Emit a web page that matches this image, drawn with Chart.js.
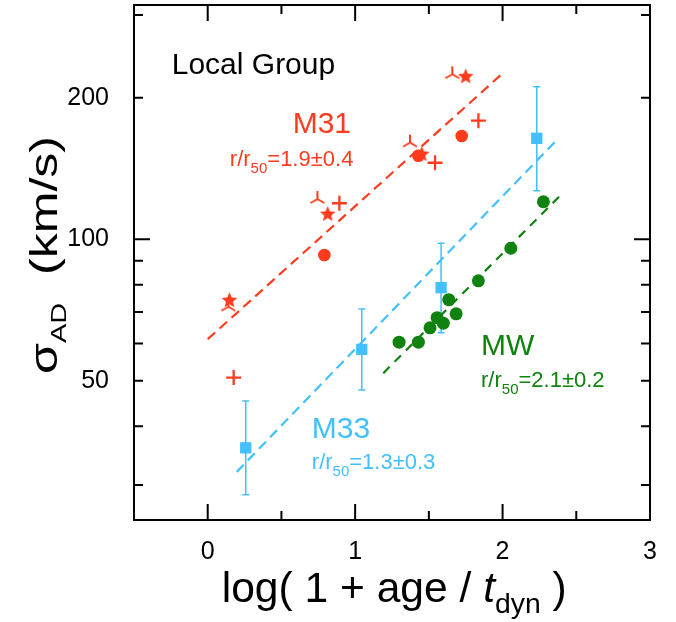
<!DOCTYPE html>
<html>
<head>
<meta charset="utf-8">
<script src="https://cdn.jsdelivr.net/npm/chart.js@4.4.1/dist/chart.umd.min.js"></script>
<style>
  html, body { margin: 0; padding: 0; background: #fff; }
</style>
</head>
<body>
<canvas id="c" width="676" height="622"></canvas>
<script>
// ---- data (x = log(1+age/tdyn), y = sigma_AD in km/s) ----
const xTickLabels = [0, 1, 2, 3];
const xMinorTicks = [0.5, 1.5, 2.5];
const yTickLabels = [50, 100, 200];
const yMinorTicks = [30, 40, 60, 70, 80, 90, 300];

// M31
const m31CircleX = [0.791, 1.429, 1.723];
const m31CircleY = [92.6, 150.6, 165.9];
const m31StarX = [0.147, 0.814, 1.452, 1.750];
const m31StarY = [74.5, 113.6, 152.4, 222.9];
const m31TriX = [0.140, 0.744, 1.372, 1.659];
const m31TriY = [71.9, 121.8, 160.6, 224.4];
const m31PlusX = [0.176, 0.893, 1.542, 1.836];
const m31PlusY = [50.8, 119.3, 145.5, 178.8];
const m31FitX = [0.0, 2.005];
const m31FitY = [61.3, 226.2];

// M33
const m33X = [0.258, 1.045, 1.583, 2.232];
const m33Y = [36.0, 58.3, 78.9, 164.0];
const m33Hi = [45.3, 71.1, 98.1, 211.2];
const m33Lo = [28.6, 47.8, 63.3, 126.9];
const m33FitX = [0.197, 2.372];
const m33FitY = [32.0, 163.2];

// MW
const mwX = [1.298, 1.429, 1.508, 1.556, 1.598, 1.635, 1.685, 1.836, 2.056, 2.277];
const mwY = [60.4, 60.4, 64.8, 68.1, 66.3, 74.4, 69.4, 81.6, 95.7, 120.2];
const mwFitX = [1.191, 2.402];
const mwFitY = [51.9, 124.9];

const RED = '#ff3b1d';
const BLUE = '#42c0ff';
const GREEN = '#0f820f';
const FONT = "'Liberation Sans', Arial, Helvetica, sans-serif";

const pts = (xs, ys) => xs.map((x, i) => ({ x: x, y: ys[i] }));

function makeStar(r, color) {
  const c = document.createElement('canvas');
  const s = Math.ceil(r * 2 + 2);
  c.width = c.height = s;
  const g = c.getContext('2d');
  g.fillStyle = color;
  g.beginPath();
  for (let i = 0; i < 10; i++) {
    const a = -Math.PI / 2 + i * Math.PI / 5;
    const rr = i % 2 ? r * 0.45 : r;
    g.lineTo(s / 2 + rr * Math.cos(a), s / 2 + 1 + rr * Math.sin(a));
  }
  g.closePath();
  g.fill();
  return c;
}

function makeTri(r, color, lw) {
  const c = document.createElement('canvas');
  const s = Math.ceil(r * 2 + 4);
  c.width = c.height = s;
  const g = c.getContext('2d');
  g.strokeStyle = color;
  g.lineWidth = lw;
  const cx = s / 2, cy = s / 2;
  g.beginPath();
  g.moveTo(cx, cy); g.lineTo(cx, cy - r);
  g.moveTo(cx, cy); g.lineTo(cx + r * Math.cos(Math.PI / 6), cy + r * Math.sin(Math.PI / 6));
  g.moveTo(cx, cy); g.lineTo(cx - r * Math.cos(Math.PI / 6), cy + r * Math.sin(Math.PI / 6));
  g.stroke();
  return c;
}

const starImg = makeStar(8.2, RED);
const triImg = makeTri(8, RED, 2);

function richWidth(ctx, parts) {
  let w = 0;
  for (const p of parts) { ctx.font = p.font; w += ctx.measureText(p.t).width; }
  return w;
}

function drawRich(ctx, parts, x, y, align, fitW, rot) {
  ctx.save();
  ctx.translate(x, y);
  if (rot) ctx.rotate(rot);
  const w = richWidth(ctx, parts);
  ctx.scale(fitW ? fitW / w : 1, 1);
  let cx = align === 'right' ? -w : 0;
  ctx.textAlign = 'left';
  ctx.textBaseline = 'alphabetic';
  for (const p of parts) {
    ctx.font = p.font;
    ctx.fillStyle = p.color || '#000';
    ctx.fillText(p.t, cx, p.dy || 0);
    cx += ctx.measureText(p.t).width;
  }
  ctx.restore();
}

function ratioText(val, color) {
  return [
    { t: 'r/r', font: '22px ' + FONT, color: color },
    { t: '50', font: '15px ' + FONT, color: color, dy: 7 },
    { t: '=' + val, font: '22px ' + FONT, color: color }
  ];
}

const decor = {
  id: 'decor',
  beforeDatasetsDraw(chart) {
    const ctx = chart.ctx, xs = chart.scales.x, ys = chart.scales.y;
    ctx.save();
    ctx.strokeStyle = BLUE;
    ctx.lineWidth = 1.5;
    m33X.forEach((x, i) => {
      const px = xs.getPixelForValue(x);
      const top = ys.getPixelForValue(m33Hi[i]);
      const bot = ys.getPixelForValue(m33Lo[i]);
      ctx.beginPath();
      ctx.moveTo(px, top); ctx.lineTo(px, bot);
      ctx.moveTo(px - 3.5, top); ctx.lineTo(px + 3.5, top);
      ctx.moveTo(px - 3.5, bot); ctx.lineTo(px + 3.5, bot);
      ctx.stroke();
    });
    ctx.restore();
  },
  afterDraw(chart) {
    const ctx = chart.ctx, a = chart.chartArea, xs = chart.scales.x, ys = chart.scales.y;
    ctx.save();
    ctx.strokeStyle = '#000';
    ctx.lineWidth = 2;
    ctx.strokeRect(a.left, a.top, a.right - a.left, a.bottom - a.top);
    ctx.beginPath();
    const xt = xTickLabels.map(v => [v, 16]).concat(xMinorTicks.map(v => [v, 9]));
    xt.forEach(([v, len]) => {
      const px = xs.getPixelForValue(v);
      if (px <= a.left + 1 || px >= a.right - 1) return;
      ctx.moveTo(px, a.bottom); ctx.lineTo(px, a.bottom - len);
      ctx.moveTo(px, a.top); ctx.lineTo(px, a.top + len);
    });
    const yt = yTickLabels.concat(yMinorTicks).map(v => [v, v === 100 ? 16 : 9]);
    yt.forEach(([v, len]) => {
      const py = ys.getPixelForValue(v);
      if (py <= a.top + 1 || py >= a.bottom - 1) return;
      ctx.moveTo(a.left, py); ctx.lineTo(a.left + len, py);
      ctx.moveTo(a.right, py); ctx.lineTo(a.right - len, py);
    });
    ctx.stroke();
    ctx.restore();

    const X = v => xs.getPixelForValue(v), Y = v => ys.getPixelForValue(v);
    drawRich(ctx, [{ t: 'Local Group', font: '30px ' + FONT }], X(-0.244), Y(224.4), 'left');
    drawRich(ctx, [{ t: 'M31', font: '30px ' + FONT, color: RED }], X(0.972), Y(168.1), 'right');
    drawRich(ctx, ratioText('1.9±0.4', RED), X(0.988), Y(143.2), 'right');
    drawRich(ctx, [{ t: 'MW', font: '30px ' + FONT, color: GREEN }], X(1.854), Y(56.7), 'left');
    drawRich(ctx, ratioText('2.1±0.2', GREEN), X(1.854), Y(48.4), 'left');
    drawRich(ctx, [{ t: 'M33', font: '30px ' + FONT, color: BLUE }], X(0.706), Y(37.7), 'left');
    drawRich(ctx, ratioText('1.3±0.3', BLUE), X(0.706), Y(32.4), 'left');

    // axis titles
    drawRich(ctx, [
      { t: 'log( 1 + age / ', font: '42px ' + FONT },
      { t: 't', font: 'italic 42px ' + FONT },
      { t: 'dyn', font: '28px ' + FONT, dy: 11 },
      { t: ' )', font: '42px ' + FONT }
    ], 221.7, 601.7, 'left', 345);
    drawRich(ctx, [
      { t: 'σ', font: '38px ' + FONT },
      { t: 'AD', font: '22px ' + FONT, dy: 9 },
      { t: '  (km/s)', font: '38px ' + FONT }
    ], 57, 374, 'left', 238, -Math.PI / 2);
  }
};

Chart.defaults.font.family = FONT;

new Chart(document.getElementById('c'), {
  type: 'scatter',
  data: {
    datasets: [
      { type: 'line', data: pts(m31FitX, m31FitY), borderColor: RED, borderWidth: 2.2, borderDash: [10, 6], pointRadius: 0, order: 10 },
      { type: 'line', data: pts(m33FitX, m33FitY), borderColor: BLUE, borderWidth: 2.2, borderDash: [10, 6], pointRadius: 0, order: 10 },
      { type: 'line', data: pts(mwFitX, mwFitY), borderColor: GREEN, borderWidth: 2.2, borderDash: [9, 7], pointRadius: 0, order: 10 },
      { data: pts(m33X, m33Y), pointStyle: 'rect', pointRadius: 8, backgroundColor: BLUE, borderWidth: 0, order: 2 },
      { data: pts(m31CircleX, m31CircleY), pointStyle: 'circle', pointRadius: 6.3, backgroundColor: RED, borderWidth: 0, order: 2 },
      { data: pts(m31StarX, m31StarY), pointStyle: starImg, pointRadius: 7, order: 1 },
      { data: pts(m31TriX, m31TriY), pointStyle: triImg, pointRadius: 7, order: 1 },
      { data: pts(m31PlusX, m31PlusY), pointStyle: 'cross', pointRadius: 7.5, borderColor: RED, borderWidth: 2.3, order: 1 },
      { data: pts(mwX, mwY), pointStyle: 'circle', pointRadius: 6.5, backgroundColor: GREEN, borderWidth: 0, order: 2 }
    ]
  },
  options: {
    responsive: false,
    animation: false,
    events: [],
    layout: { autoPadding: false, padding: { top: 5, right: 26, left: 0, bottom: 0 } },
    plugins: { legend: { display: false }, tooltip: { enabled: false } },
    scales: {
      x: {
        type: 'linear', min: -0.5, max: 3,
        grid: { display: false }, border: { display: false },
        ticks: { padding: 9, color: '#000', font: { size: 25 }, maxRotation: 0, autoSkip: false },
        afterBuildTicks: s => { s.ticks = xTickLabels.map(v => ({ value: v })); },
        afterFit: s => { s.height = 102; s.paddingLeft = 0; s.paddingRight = 0; }
      },
      y: {
        type: 'logarithmic', min: 25.28, max: 315.1,
        grid: { display: false }, border: { display: false },
        ticks: { padding: 17, color: '#000', font: { size: 25 }, autoSkip: false, callback: v => String(v) },
        afterBuildTicks: s => { s.ticks = yTickLabels.map(v => ({ value: v })); },
        afterFit: s => { s.width = 134; s.paddingTop = 0; s.paddingBottom = 0; }
      }
    }
  },
  plugins: [decor]
});
</script>
</body>
</html>
